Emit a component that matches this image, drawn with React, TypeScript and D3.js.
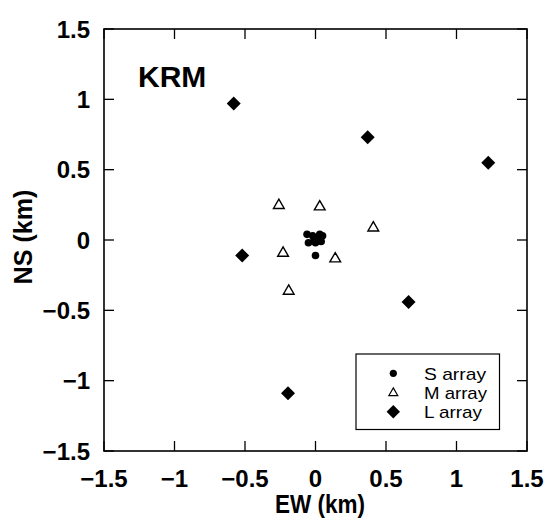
import React from "react";
import * as d3 from "d3";

const xTicks = [-1.5, -1, -0.5, 0, 0.5, 1, 1.5];
const yTicks = [-1.5, -1, -0.5, 0, 0.5, 1, 1.5];

const sArray: [number, number][] = [
  [-0.06, 0.04], [-0.02, 0.03], [0.03, 0.04], [0.05, 0.03], [-0.05, -0.02],
  [-0.01, 0.0], [0.02, 0.01], [0.04, -0.01], [0.0, -0.02], [0.0, -0.11],
];
const mArray: [number, number][] = [
  [-0.26, 0.25], [0.03, 0.24], [0.41, 0.09], [-0.23, -0.09], [0.14, -0.13], [-0.19, -0.36],
];
const lArray: [number, number][] = [
  [-0.58, 0.97], [0.37, 0.73], [1.225, 0.55], [-0.52, -0.11], [0.66, -0.44], [-0.195, -1.09],
];
const legendLabels = ["S array", "M array", "L array"];

const W = 546, H = 520;
const L = 104, R = 527, T = 29, B = 451;
const FONT = "'Liberation Sans', Arial, sans-serif";
const LEGEND_TEXT_WIDTHS = [62, 63, 58];

const fmt = (v: number) => (v < 0 ? "\u2212" + String(-v) : String(v));

function Circle({ x, y }: { x: number; y: number }) {
  return <circle cx={x} cy={y} r={3.8} fill="#000" />;
}
function Tri({ x, y }: { x: number; y: number }) {
  const path = d3.symbol(d3.symbolTriangle, 50)();
  return <path d={path || ""} transform={`translate(${x},${y + 0.5})`} fill="#fff" stroke="#000" strokeWidth={1.4} />;
}
function Diamond({ x, y }: { x: number; y: number }) {
  const d = 7;
  return <path d={`M${x},${y - d}L${x + d},${y}L${x},${y + d}L${x - d},${y}Z`} fill="#000" />;
}

export default function App() {
  const xs = d3.scaleLinear().domain([-1.5, 1.5]).range([L, R]);
  const ys = d3.scaleLinear().domain([-1.5, 1.5]).range([B, T]);
  const tl = 10;
  return (
    <svg width={W} height={H} style={{ position: "absolute", left: 0, top: 0 }} fontFamily={FONT}>
      <rect x={0} y={0} width={W} height={H} fill="#fff" />
      {xTicks.map((t) => (
        <g key={"xt" + t}>
          <line x1={xs(t)} x2={xs(t)} y1={B} y2={B - tl} stroke="#000" strokeWidth={1.3} />
          <line x1={xs(t)} x2={xs(t)} y1={T} y2={T + tl} stroke="#000" strokeWidth={1.3} />
          <text x={xs(t)} y={487} textAnchor="middle" fontSize={24} fontWeight="bold">{fmt(t)}</text>
        </g>
      ))}
      {yTicks.map((t) => (
        <g key={"yt" + t}>
          <line x1={L} x2={L + tl} y1={ys(t)} y2={ys(t)} stroke="#000" strokeWidth={1.3} />
          <line x1={R} x2={R - tl} y1={ys(t)} y2={ys(t)} stroke="#000" strokeWidth={1.3} />
          <text x={90} y={ys(t) + 8.6} textAnchor="end" fontSize={24} fontWeight="bold">{fmt(t)}</text>
        </g>
      ))}
      <rect x={L} y={T} width={R - L} height={B - T} fill="none" stroke="#000" strokeWidth={1.6} />
      <text x={320} y={512.5} textAnchor="middle" fontSize={25} fontWeight="bold" textLength={90} lengthAdjust="spacingAndGlyphs">EW (km)</text>
      <text transform={`translate(32,237) rotate(-90)`} textAnchor="middle" fontSize={25} fontWeight="bold" textLength={95} lengthAdjust="spacingAndGlyphs">NS (km)</text>
      <text x={138} y={86.5} fontSize={30} fontWeight="bold">KRM</text>
      {lArray.map((p, i) => <Diamond key={"l" + i} x={xs(p[0])} y={ys(p[1])} />)}
      {mArray.map((p, i) => <Tri key={"m" + i} x={xs(p[0])} y={ys(p[1])} />)}
      {sArray.map((p, i) => <Circle key={"s" + i} x={xs(p[0])} y={ys(p[1])} />)}
      <rect x={356} y={354} width={143.5} height={75.5} fill="#fff" stroke="#000" strokeWidth={1.2} />
      <circle cx={393.3} cy={373.3} r={3.6} fill="#000" />
      <path d={d3.symbol(d3.symbolTriangle, 34)() || ""} transform="translate(393.3,393)" fill="#fff" stroke="#000" strokeWidth={1.2} />
      <path d="M393.3,405L400,411.7L393.3,418.4L386.6,411.7Z" fill="#000" />
      {legendLabels.map((lab, i) => (
        <text key={lab} x={424} y={379.5 + i * 19.2} fontSize={17} textLength={LEGEND_TEXT_WIDTHS[i]} lengthAdjust="spacingAndGlyphs">{lab}</text>
      ))}
    </svg>
  );
}
